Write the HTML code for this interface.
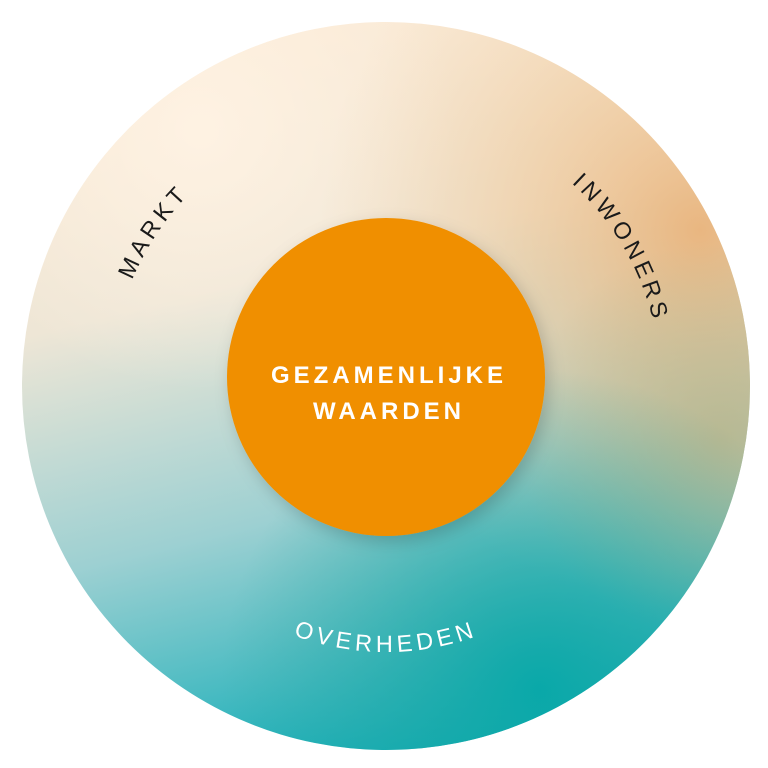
<!DOCTYPE html>
<html><head><meta charset="utf-8"><style>
html,body{margin:0;padding:0;background:#fff;width:768px;height:768px;overflow:hidden}
svg{display:block}
</style></head><body>
<svg width="768" height="768" viewBox="0 0 768 768" xmlns="http://www.w3.org/2000/svg">
<defs>
<clipPath id="c"><circle cx="386" cy="386" r="364"/></clipPath>
<linearGradient id="base" x1="0.3" y1="0" x2="0.55" y2="1">
<stop offset="0" stop-color="#fdebd6"/>
<stop offset="0.35" stop-color="#eee6d6"/>
<stop offset="0.65" stop-color="#9dd0d2"/>
<stop offset="1" stop-color="#05aab5"/>
</linearGradient>
<radialGradient id="tr" cx="700" cy="230" r="380" gradientUnits="userSpaceOnUse">
<stop offset="0" stop-color="#eab47c" stop-opacity="0.95"/>
<stop offset="0.5" stop-color="#f0c592" stop-opacity="0.5"/>
<stop offset="1" stop-color="#f5d2a8" stop-opacity="0"/>
</radialGradient>
<radialGradient id="br" cx="540" cy="690" r="320" gradientUnits="userSpaceOnUse">
<stop offset="0" stop-color="#08a8a8" stop-opacity="0.95"/>
<stop offset="1" stop-color="#3aa9a0" stop-opacity="0"/>
</radialGradient>
<radialGradient id="tl" cx="200" cy="130" r="260" gradientUnits="userSpaceOnUse">
<stop offset="0" stop-color="#fff3e4" stop-opacity="0.9"/>
<stop offset="1" stop-color="#fff3e4" stop-opacity="0"/>
</radialGradient>
<radialGradient id="rm" cx="720" cy="440" r="200" gradientUnits="userSpaceOnUse">
<stop offset="0" stop-color="#b6b48a" stop-opacity="0.8"/>
<stop offset="1" stop-color="#b6b48a" stop-opacity="0"/>
</radialGradient>
<filter id="sh" x="-30%" y="-30%" width="160%" height="160%">
<feDropShadow dx="4" dy="6" stdDeviation="8" flood-color="#000" flood-opacity="0.18"/>
</filter>
<path id="top" d="M 111 386 A 275 275 0 0 1 661 386"/>
<path id="bot" d="M 120 386 A 266 266 0 0 0 652 386"/>
</defs>
<g clip-path="url(#c)">
<rect width="768" height="768" fill="url(#base)"/>
<rect width="768" height="768" fill="url(#tl)"/>
<rect width="768" height="768" fill="url(#tr)"/>
<rect width="768" height="768" fill="url(#rm)"/>
<rect width="768" height="768" fill="url(#br)"/>
</g>
<g font-family="Liberation Sans, sans-serif" font-size="23.5" letter-spacing="4.5">
<text fill="#1a1a1a"><textPath href="#top" startOffset="161" text-anchor="middle">MARKT</textPath></text>
<text fill="#1a1a1a"><textPath href="#top" startOffset="718" text-anchor="middle">INWONERS</textPath></text>
<text fill="#ffffff"><textPath href="#bot" startOffset="50%" text-anchor="middle">OVERHEDEN</textPath></text>
</g>
<circle cx="386" cy="377" r="159" fill="#f08f05" filter="url(#sh)"/>
<g font-family="Liberation Sans, sans-serif" font-size="24" font-weight="bold" fill="#fff" text-anchor="middle" letter-spacing="4">
<text x="389" y="383">GEZAMENLIJKE</text>
<text x="389" y="419">WAARDEN</text>
</g>
</svg>
</body></html>
